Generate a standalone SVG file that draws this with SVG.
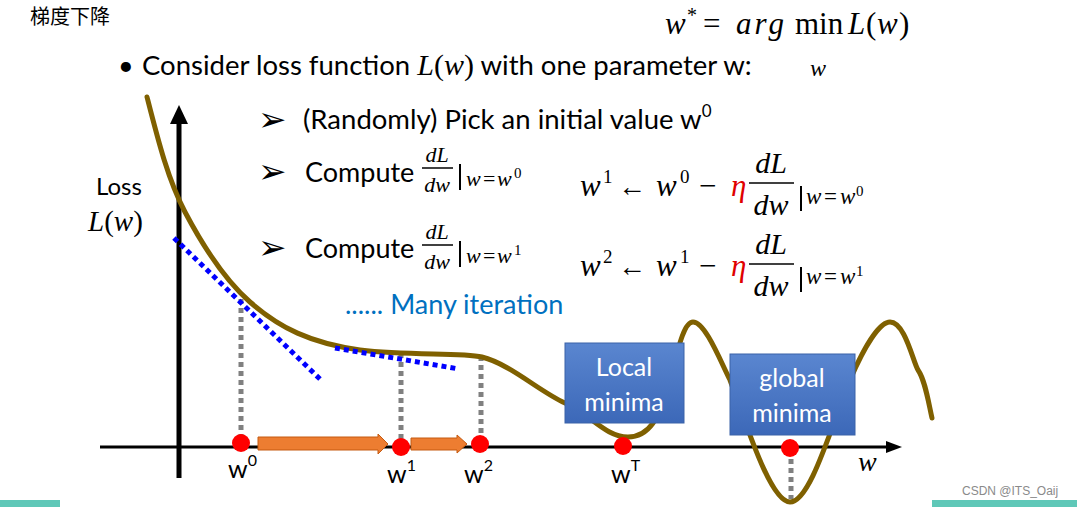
<svg xmlns="http://www.w3.org/2000/svg" width="1077" height="507" viewBox="0 0 1077 507">
<defs>
<style>
.sans{font-family:Lato,"Open Sans","Liberation Sans",sans-serif;fill:#000}
.cjk{font-family:"Noto Sans CJK SC",sans-serif;fill:#000}
.math{font-family:"Liberation Serif","DejaVu Serif",serif;font-style:italic;fill:#000}
.up{font-family:"Liberation Serif",serif;font-style:normal}
.red{fill:#e00000}
.box{stroke:#3a62a8;stroke-width:1}
.boxt{font-family:Lato,"Open Sans","Liberation Sans",sans-serif;fill:#fff;font-size:25px;text-anchor:middle}
.dotg{stroke:#808080;stroke-width:5;stroke-dasharray:5 4;fill:none}
.dotb{stroke:#0000ff;stroke-width:5;stroke-dasharray:5 4;fill:none}
.dot{fill:#ff0000}
.arr{fill:#ed7d31;stroke:#c55a11;stroke-width:1}
.wl{font-family:Lato,"Open Sans","Liberation Sans",sans-serif;font-size:25px;fill:#000}
.sup{font-size:16px}
.bul{font-family:"DejaVu Sans",sans-serif;font-size:34px;fill:#000}
</style>
<linearGradient id="bg" x1="0" y1="0" x2="0" y2="1">
<stop offset="0" stop-color="#5a86d0"/>
<stop offset="1" stop-color="#3c68b8"/>
</linearGradient>
</defs>
<rect width="1077" height="507" fill="#fff"/>

<text class="cjk" x="30" y="24" font-size="20">梯度下降</text>

<g id="formula-top">
<text class="math" x="665" y="34" font-size="31">w</text>
<text class="up" x="687" y="22" font-size="20">*</text>
<text class="up" x="703" y="34" font-size="31">=</text>
<text class="math" x="736" y="34" font-size="31" letter-spacing="3">arg</text>
<text class="up" x="795" y="34" font-size="31">min</text>
<text class="math" x="848" y="34" font-size="31">L</text>
<text class="up" x="866" y="34" font-size="31">(</text>
<text class="math" x="877" y="34" font-size="31">w</text>
<text class="up" x="899" y="34" font-size="31">)</text>
<text class="math" x="810" y="76" font-size="24">w</text>
</g>

<g id="bullet">
<text class="sans" x="118" y="75" font-size="27">•</text>
<text class="sans" x="142" y="75" font-size="27.5">Consider loss function <tspan class="math" font-size="30">L</tspan><tspan class="up" font-size="30">(</tspan><tspan class="math" font-size="30">w</tspan><tspan class="up" font-size="30">)</tspan> with one parameter w:</text>
</g>

<g id="steps">
<text class="bul" x="258" y="131">➢</text>
<text class="sans" x="303" y="129" font-size="27.5">(Randomly) Pick an initial value w<tspan font-size="17" dy="-12">0</tspan></text>

<text class="bul" x="258" y="183">➢</text>
<text class="sans" x="305" y="182" font-size="27">Compute</text>
<text class="math" x="437" y="162" font-size="22" text-anchor="middle">dL</text>
<line x1="422" y1="168" x2="453" y2="168" stroke="#000" stroke-width="1.5"/>
<text class="math" x="437" y="192" font-size="22" text-anchor="middle">dw</text>
<line x1="460" y1="164" x2="460" y2="190" stroke="#000" stroke-width="2"/>
<text class="math" x="466" y="186" font-size="22">w</text>
<text class="up" x="483" y="186" font-size="22">=</text>
<text class="math" x="497" y="186" font-size="22">w</text>
<text class="up" x="514" y="178" font-size="15">0</text>

<text class="bul" x="258" y="259">➢</text>
<text class="sans" x="305" y="258" font-size="27">Compute</text>
<text class="math" x="437" y="239" font-size="22" text-anchor="middle">dL</text>
<line x1="422" y1="245" x2="453" y2="245" stroke="#000" stroke-width="1.5"/>
<text class="math" x="437" y="269" font-size="22" text-anchor="middle">dw</text>
<line x1="460" y1="241" x2="460" y2="267" stroke="#000" stroke-width="2"/>
<text class="math" x="466" y="263" font-size="22">w</text>
<text class="up" x="483" y="263" font-size="22">=</text>
<text class="math" x="497" y="263" font-size="22">w</text>
<text class="up" x="514" y="255" font-size="15">1</text>
</g>

<g id="update1">
<text class="math" x="580" y="196" font-size="31">w</text>
<text class="up" x="603" y="183" font-size="19">1</text>
<text class="up" x="618" y="196" font-size="28">←</text>
<text class="math" x="656" y="196" font-size="31">w</text>
<text class="up" x="680" y="183" font-size="19">0</text>
<text class="up" x="699" y="196" font-size="31">−</text>
<text class="math red" x="731" y="196" font-size="31">η</text>
<text class="math" x="771" y="173" font-size="30" text-anchor="middle">dL</text>
<line x1="749" y1="183" x2="794" y2="183" stroke="#000" stroke-width="1.5"/>
<text class="math" x="771" y="215" font-size="30" text-anchor="middle">dw</text>
<line x1="801" y1="186" x2="801" y2="211" stroke="#000" stroke-width="2"/>
<text class="math" x="806" y="204" font-size="23">w</text>
<text class="up" x="824" y="204" font-size="23">=</text>
<text class="math" x="840" y="204" font-size="23">w</text>
<text class="up" x="856" y="196" font-size="15">0</text>
</g>

<g id="update2">
<text class="math" x="580" y="276" font-size="31">w</text>
<text class="up" x="603" y="263" font-size="19">2</text>
<text class="up" x="618" y="276" font-size="28">←</text>
<text class="math" x="656" y="276" font-size="31">w</text>
<text class="up" x="680" y="263" font-size="19">1</text>
<text class="up" x="699" y="276" font-size="31">−</text>
<text class="math red" x="731" y="276" font-size="31">η</text>
<text class="math" x="771" y="254" font-size="30" text-anchor="middle">dL</text>
<line x1="749" y1="264" x2="794" y2="264" stroke="#000" stroke-width="1.5"/>
<text class="math" x="771" y="296" font-size="30" text-anchor="middle">dw</text>
<line x1="801" y1="267" x2="801" y2="292" stroke="#000" stroke-width="2"/>
<text class="math" x="806" y="284" font-size="23">w</text>
<text class="up" x="824" y="284" font-size="23">=</text>
<text class="math" x="840" y="284" font-size="23">w</text>
<text class="up" x="856" y="276" font-size="15">1</text>
</g>

<text id="many" x="345" y="314" font-size="27" font-family="Lato,'Open Sans','Liberation Sans',sans-serif" fill="#0070c0">...... Many iteration</text>

<g id="axis-labels">
<text class="sans" x="96" y="195" font-size="24">Loss</text>
<text class="math" x="88" y="231" font-size="29">L<tspan class="up">(</tspan>w<tspan class="up">)</tspan></text>
<text class="math" x="858" y="471" font-size="28">w</text>
</g>

<g id="axes">
<line x1="179" y1="478" x2="179" y2="120" stroke="#000" stroke-width="5"/>
<path d="M179,105 L188,124 L170,124 z" fill="#000"/>
<line x1="100" y1="447" x2="888" y2="447" stroke="#000" stroke-width="3"/>
<path d="M902,447 L886,441 L886,453 z" fill="#000"/>
</g>

<g id="connectors">
<line class="dotg" x1="241" y1="299" x2="241" y2="440"/>
<line class="dotg" x1="401" y1="353" x2="401" y2="444"/>
<line class="dotg" x1="481" y1="356" x2="481" y2="441"/>
<line class="dotg" x1="791" y1="450" x2="791" y2="499"/>
<path class="arr" d="M258,437 L378,437 L378,434 L388,444 L378,454 L378,450 L258,450 z"/>
<path class="arr" d="M411,438 L457,438 L457,435 L467,444 L457,453 L457,450 L411,450 z"/>
</g>

<g id="curve">
<path d="M147,97 C158,140 168,180 185,212 C205,250 225,280 250,302 C280,328 310,343 360,350 C410,356 460,352 482,357 C510,364 540,392 565,403 C590,414 605,437 628,437 C648,437 660,420 670,380 C680,340 685,322 693,322 C705,322 720,360 730,380 C745,420 770,502 790,502 C810,502 830,430 850,380 C865,345 880,322 890,322 C905,322 913,362 918,370 C925,380 928,400 932,418" fill="none" stroke="#7f6000" stroke-width="5" stroke-linecap="round"/>
</g>

<g id="tangents">
<line class="dotb" x1="174" y1="238" x2="322" y2="381"/>
<line class="dotb" x1="335" y1="348" x2="459" y2="369"/>
</g>

<g id="points">
<circle class="dot" cx="241" cy="443" r="9"/>
<circle class="dot" cx="401" cy="447" r="9"/>
<circle class="dot" cx="480" cy="444" r="9"/>
<circle class="dot" cx="623" cy="446" r="9"/>
<circle class="dot" cx="790" cy="448" r="9"/>
</g>

<g id="point-labels">
<text class="wl" x="228" y="478">w<tspan class="sup" dy="-12">0</tspan></text>
<text class="wl" x="387" y="483">w<tspan class="sup" dy="-12">1</tspan></text>
<text class="wl" x="464" y="483">w<tspan class="sup" dy="-12">2</tspan></text>
<text class="wl" x="611" y="483">w<tspan class="sup" dy="-12">T</tspan></text>
</g>

<g id="local-minima">
<rect class="box" x="565" y="343" width="119" height="80" fill="url(#bg)"/>
<text class="boxt" x="624" y="376">Local</text>
<text class="boxt" x="624" y="411">minima</text>
</g>

<g id="global-minima">
<rect class="box" x="730" y="354" width="125" height="81" fill="url(#bg)"/>
<text class="boxt" x="792" y="387">global</text>
<text class="boxt" x="792" y="422">minima</text>
</g>

<g id="footer">
<rect x="0" y="500" width="60" height="7" fill="#5fc8b8"/>
<rect x="932" y="500" width="145" height="7" fill="#5fc8b8"/>
<text x="962" y="495" font-size="12" font-family="'Liberation Sans',sans-serif" fill="#8a8a8a">CSDN @ITS_Oaij</text>
</g>
</svg>
